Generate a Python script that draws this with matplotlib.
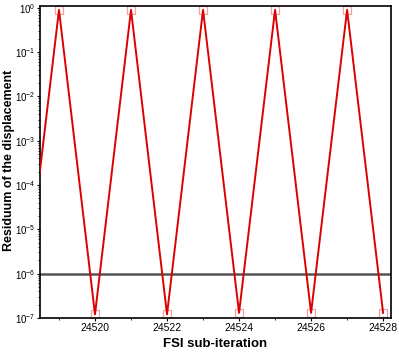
import matplotlib
matplotlib.use('Agg')
from matplotlib import pyplot as plt
from matplotlib.ticker import LogLocator, MultipleLocator, NullFormatter

plt.rcParams['font.family'] = ['Liberation Sans', 'DejaVu Sans']

iterations = [24518, 24519, 24520, 24521, 24522, 24523, 24524, 24525, 24526, 24527, 24528]
residuum = [1.2e-7, 0.9, 1.2e-7, 0.9, 1.2e-7, 0.9, 1.3e-7, 0.9, 1.3e-7, 0.9, 1.3e-7]
tolerance = 1e-6


def make_plot():
    fig = plt.figure(figsize=(3.99, 3.54), dpi=100)
    ax = fig.add_axes([0.1, 0.102, 0.88, 0.881])

    ax.axhline(tolerance, color='#555555', lw=1.8, zorder=1)
    ax.plot(iterations, residuum, color='#dd0000', lw=1.4, zorder=3)
    ax.plot(iterations, residuum, ls='none', marker='s', ms=6, mfc='none',
            mec='#f4a0a0', mew=0.9, zorder=2)

    ax.set_yscale('log')
    ax.set_xlim(24518.47, 24528.22)
    ax.set_ylim(1e-7, 1.1)
    ax.xaxis.set_major_locator(MultipleLocator(2))
    ax.xaxis.set_minor_locator(MultipleLocator(1))
    ax.yaxis.set_major_locator(LogLocator(base=10, numticks=12))
    ax.yaxis.set_minor_locator(LogLocator(base=10, subs=range(2, 10), numticks=12))
    ax.yaxis.set_minor_formatter(NullFormatter())
    ax.ticklabel_format(axis='x', useOffset=False, style='plain')

    ax.tick_params(axis='x', which='major', labelsize=7.5, length=2.5, width=0.8, pad=1.5)
    ax.tick_params(axis='y', which='major', labelsize=7, length=2, width=0.8, pad=1)
    ax.tick_params(axis='both', which='minor', length=1.5, width=0.6)
    for s in ax.spines.values():
        s.set_linewidth(1.2)

    ax.set_xlabel('FSI sub-iteration', fontsize=9.5, fontweight='bold', labelpad=3)
    ax.set_ylabel('Residuum of the displacement', fontsize=9, fontweight='bold')
    ax.yaxis.set_label_coords(-0.072, 0.506)

    plt.savefig('out.png', dpi=100)
    plt.close()


if __name__ == "__main__":
    make_plot()
